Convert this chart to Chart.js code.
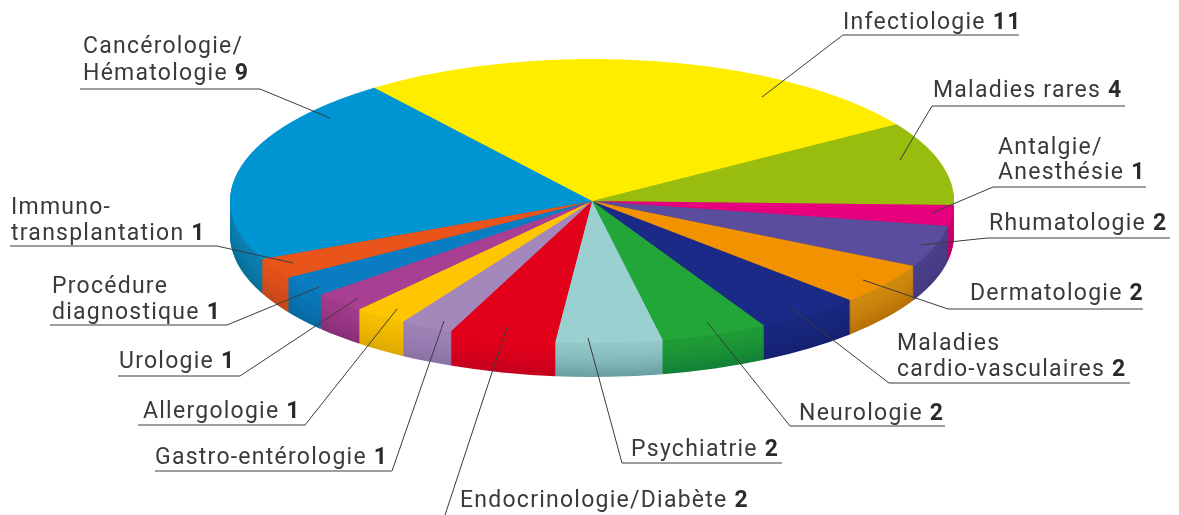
<!DOCTYPE html>
<html>
<head>
<meta charset="utf-8">
<title>Pie</title>
<script src="https://cdn.jsdelivr.net/npm/chart.js@4"></script>
<style>
  html, body { margin: 0; background: #fff; }
  canvas { display: block; }
</style>
</head>
<body>
<canvas id="myChart" width="1179" height="515"></canvas>
<script>
var categories = ["Infectiologie", "Maladies rares", "Antalgie/\nAnesthésie", "Rhumatologie", "Dermatologie",
  "Maladies\ncardio-vasculaires", "Neurologie", "Psychiatrie", "Endocrinologie/Diabète", "Gastro-entérologie",
  "Allergologie", "Urologie", "Procédure\ndiagnostique", "Immuno-\ntransplantation", "Cancérologie/\nHématologie"];
var values = [11, 4, 1, 2, 2, 2, 2, 2, 2, 1, 1, 1, 1, 1, 9];

var topColors = ["#ffed00", "#99bd0e", "#e6007e", "#5b4d9d", "#f39200", "#1b2a86", "#22a638", "#9bd0d0",
  "#e2001a", "#a488bb", "#fec600", "#a93f92", "#0a7cc2", "#e8541a", "#0095d2"];
var wallTop = ["#e0d000", "#88a80c", "#d0006f", "#4a3f8a", "#d08a10", "#19287f", "#1f9c35", "#93c8c8",
  "#e2001a", "#9d82b5", "#f6bf00", "#a23b8c", "#0a78bb", "#e2521a", "#0a7fb0"];
var wallBottom = ["#c0b000", "#78950a", "#b80062", "#443a82", "#b87008", "#152272", "#128038", "#6a9ea2",
  "#c4001f", "#8b72a6", "#dca800", "#882e76", "#07699f", "#c2481a", "#086f98"];

// label block: x of the text, baseline of each line, underline y and span, leader elbow and tip
var labelLayout = [
  {x: 843, y: [29], line: 35, from: 1019, to: 843, tip: [762, 97]},
  {x: 933, y: [97], line: 106, from: 1125, to: 932, tip: [900, 160]},
  {x: 998, y: [154, 179], line: 187, from: 1146, to: 993, tip: [932, 213]},
  {x: 989, y: [230], line: 238, from: 1170, to: 987, tip: [921, 245]},
  {x: 970, y: [300], line: 309, from: 1143, to: 948, tip: [863, 280]},
  {x: 897, y: [350, 376], line: 383, from: 1130, to: 889, tip: [790, 307]},
  {x: 799, y: [420], line: 426, from: 945, to: 790, tip: [707, 322]},
  {x: 631, y: [456], line: 463, from: 782, to: 622, tip: [588, 338]},
  {x: 460, y: [507], line: null, from: 445, to: 445, tip: [507, 327], start: [445, 515]},
  {x: 155, y: [464], line: 471, from: 155, to: 392, tip: [444, 321]},
  {x: 143, y: [418], line: 425, from: 138, to: 305, tip: [397, 309]},
  {x: 119, y: [368], line: 376, from: 118, to: 240, tip: [358, 298]},
  {x: 52, y: [293, 319], line: 325, from: 50, to: 227, tip: [319, 287]},
  {x: 11, y: [214, 240], line: 246, from: 10, to: 217, tip: [293, 263]},
  {x: 83, y: [53, 80], line: 89, from: 80, to: 260, tip: [330, 118]}
];

var squash = 0.392;
var depth = 34;

function hexMix(a, b, t){
  var out = "#";
  for (var i = 1; i < 7; i += 2) {
    var v = Math.round(parseInt(a.substr(i, 2), 16) * (1 - t) + parseInt(b.substr(i, 2), 16) * t);
    out += (v < 16 ? "0" : "") + v.toString(16);
  }
  return out;
}

var flatPie = {
  id: "flatPie",
  beforeDatasetsDraw(chart){
    var ctx = chart.ctx;
    var arcs = chart.getDatasetMeta(0).data;
    var cy = arcs[0].y;
    ctx.save();
    ctx.translate(0, cy);
    ctx.scale(1, squash);
    ctx.translate(0, -cy);
    // extruded side wall: same arcs stacked downwards, darker at the bottom
    for (var d = depth; d >= 1; d--) {
      ctx.save();
      ctx.translate(0, d / squash);
      arcs.forEach(function(arc, i){
        var base = arc.options;
        var o = Object.create(base);
        var t = Math.pow(d / depth, 1.6);
        Object.defineProperty(o, "backgroundColor", {value: hexMix(wallTop[i], wallBottom[i], t)});
        arc.options = o;
        arc.draw(ctx);
        arc.options = base;
      });
      ctx.restore();
    }
  },
  afterDatasetsDraw(chart){
    var ctx = chart.ctx;
    ctx.restore();
    drawLabels(ctx);
  }
};

function drawLabels(ctx){
  ctx.save();
  ctx.textBaseline = "alphabetic";
  labelLayout.forEach(function(l, i){
    ctx.strokeStyle = "#3c3c3c";
    ctx.lineWidth = 1;
    ctx.beginPath();
    if (l.line === null) {
      ctx.moveTo(l.start[0], l.start[1]);
    } else {
      ctx.moveTo(l.from, l.line);
      ctx.lineTo(l.to, l.line);
    }
    ctx.lineTo(l.tip[0], l.tip[1]);
    ctx.stroke();

    var lines = categories[i].split("\n");
    lines.forEach(function(txt, j){
      ctx.font = "23px Roboto";
      ctx.letterSpacing = "1.25px";
      ctx.fillStyle = "#3a3a3a";
      ctx.fillText(txt, l.x, l.y[j]);
      if (j === lines.length - 1) {
        var w = ctx.measureText(txt + " ").width;
        ctx.font = "bold 23px Roboto";
        ctx.fillStyle = "#2a2a2a";
        ctx.fillText("" + values[i], l.x + w, l.y[j]);
      }
    });
  });
  ctx.restore();
}

new Chart("myChart", {
  type: "pie",
  data: {
    labels: categories,
    datasets: [{
      data: values,
      backgroundColor: topColors,
      borderWidth: 0,
      clip: false
    }]
  },
  options: {
    responsive: false,
    animation: false,
    rotation: -37,
    radius: 362,
    layout: {padding: {left: 5, bottom: 113}},
    plugins: {legend: {display: false}, tooltip: {enabled: false}}
  },
  plugins: [flatPie]
});
</script>
</body>
</html>
